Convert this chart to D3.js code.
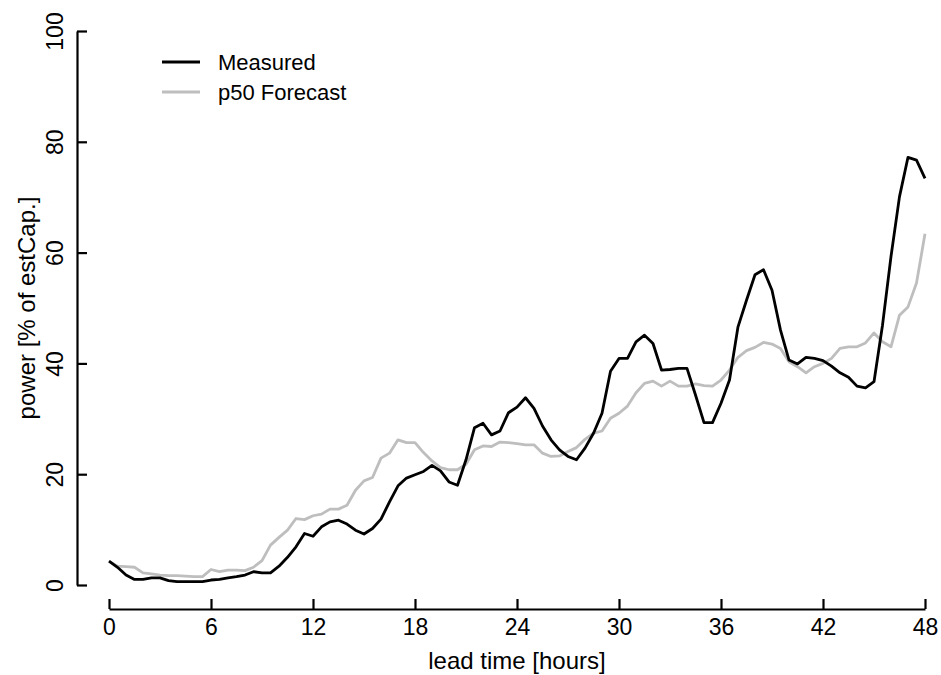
<!DOCTYPE html>
<html>
<head>
<meta charset="utf-8">
<script src="https://cdn.jsdelivr.net/npm/d3@7/dist/d3.min.js"></script>
<style>
  html, body { margin: 0; padding: 0; background: #fff; }
  svg { display: block; }
  text { font-family: "Liberation Sans", Arial, Helvetica, sans-serif; fill: #000; }
</style>
</head>
<body>
<svg id="chart" width="941" height="675"></svg>
<script>
// Lead time in hours, half-hour resolution (0 .. 48)
const leadTime = d3.range(0, 48.001, 0.5);

// Measured power [% of estimated capacity]
const measured = [
  4.3, 3.2, 1.8, 1.0, 1.0, 1.3, 1.3, 0.8, 0.6, 0.6,
  0.6, 0.6, 0.9, 1.0, 1.3, 1.5, 1.8, 2.4, 2.2, 2.2,
  3.4, 5.0, 6.9, 9.3, 8.8, 10.5, 11.4, 11.7, 11.0, 9.9,
  9.2, 10.2, 11.9, 15.0, 17.9, 19.3, 19.9, 20.5, 21.6, 20.6,
  18.6, 18.0, 22.6, 28.4, 29.2, 27.1, 27.8, 31.1, 32.1, 33.8,
  31.9, 28.7, 26.2, 24.4, 23.2, 22.6, 24.7, 27.4, 31.0, 38.6,
  40.9, 40.9, 43.9, 45.1, 43.6, 38.8, 38.9, 39.1, 39.1, 34.3,
  29.3, 29.3, 32.8, 37.0, 46.6, 51.4, 56.0, 56.9, 53.2, 46.0,
  40.6, 39.9, 41.1, 40.9, 40.5, 39.5, 38.3, 37.5, 35.9, 35.6,
  36.7, 46.9, 59.3, 70.1, 77.2, 76.7, 73.4
];

// Median (p50) forecast power [% of estimated capacity]
const forecastP50 = [
  4.3, 3.4, 3.3, 3.2, 2.2, 2.0, 1.8, 1.7, 1.7, 1.6,
  1.5, 1.5, 2.8, 2.4, 2.7, 2.7, 2.6, 3.2, 4.4, 7.2,
  8.6, 9.9, 12.0, 11.8, 12.5, 12.8, 13.7, 13.7, 14.4, 17.1,
  18.8, 19.4, 22.9, 23.8, 26.2, 25.7, 25.7, 23.9, 22.4, 21.2,
  20.8, 20.8, 21.8, 24.4, 25.1, 25.0, 25.8, 25.7, 25.5, 25.3,
  25.3, 23.8, 23.2, 23.3, 24.1, 24.8, 26.3, 27.4, 27.8, 30.1,
  31.0, 32.3, 34.7, 36.4, 36.8, 35.9, 36.8, 35.9, 35.9, 36.3,
  36.0, 35.9, 37.0, 38.8, 41.1, 42.3, 42.9, 43.8, 43.5, 42.7,
  40.3, 39.4, 38.3, 39.4, 40.0, 40.9, 42.7, 43.0, 43.0, 43.7,
  45.5, 43.9, 43.0, 48.7, 50.2, 54.5, 63.4
];

const xTicks = [0, 6, 12, 18, 24, 30, 36, 42, 48];
const yTicks = [0, 20, 40, 60, 80, 100];

const seriesNames = ["Measured", "p50 Forecast"];
const seriesColors = ["#000000", "#bebebe"];

const svg = d3.select("#chart");

const x = d3.scaleLinear().domain([0, 48]).range([109, 925]);
const y = d3.scaleLinear().domain([0, 100]).range([585, 31]);

// x axis: detached below the plot, ticks pointing up
const xAxisG = svg.append("g")
  .attr("transform", "translate(0,609)")
  .call(d3.axisTop(x).tickValues(xTicks).tickSize(10).tickSizeOuter(0).tickFormat(d3.format("d")));
xAxisG.select(".domain").attr("stroke", "#000").attr("stroke-width", 2.2);
xAxisG.selectAll(".tick line").attr("stroke", "#000").attr("stroke-width", 2.2);
xAxisG.selectAll(".tick text")
  .attr("y", 10).attr("dy", "0.71em")
  .style("font-size", "23px");

// y axis: detached left of the plot, ticks pointing right, rotated labels
const yAxisG = svg.append("g")
  .attr("transform", "translate(77,0)")
  .call(d3.axisRight(y).tickValues(yTicks).tickSize(10).tickSizeOuter(0).tickFormat(d3.format("d")));
yAxisG.select(".domain").attr("stroke", "#000").attr("stroke-width", 2.2);
yAxisG.selectAll(".tick line").attr("stroke", "#000").attr("stroke-width", 2.2);
yAxisG.selectAll(".tick text")
  .attr("x", null).attr("dy", null)
  .attr("text-anchor", "middle")
  .attr("transform", "translate(-14,0) rotate(-90)")
  .style("font-size", "23px");

// axis titles
svg.append("text")
  .attr("x", (x(0) + x(48)) / 2)
  .attr("y", 669)
  .attr("text-anchor", "middle")
  .style("font-size", "24px")
  .text("lead time [hours]");

svg.append("text")
  .attr("transform", `translate(35,${(y(0) + y(100)) / 2}) rotate(-90)`)
  .attr("text-anchor", "middle")
  .style("font-size", "24px")
  .text("power [% of estCap.]");

// series lines
const line = d3.line()
  .x((d, i) => x(leadTime[i]))
  .y(d => y(d));

[forecastP50, measured].forEach((vals, k) => {
  const idx = k === 0 ? 1 : 0;
  svg.append("path")
    .datum(vals)
    .attr("fill", "none")
    .attr("stroke", seriesColors[idx])
    .attr("stroke-width", 2.8)
    .attr("stroke-linejoin", "round")
    .attr("d", line);
});

// legend
const legend = svg.append("g").attr("transform", "translate(162,62)");
seriesNames.forEach((name, i) => {
  const g = legend.append("g").attr("transform", `translate(0,${i * 30})`);
  g.append("line")
    .attr("x1", 0).attr("x2", 38)
    .attr("y1", 0).attr("y2", 0)
    .attr("stroke", seriesColors[i])
    .attr("stroke-width", 2.8);
  g.append("text")
    .attr("x", 56).attr("y", 0).attr("dy", "0.35em")
    .style("font-size", "22px")
    .text(name);
});
</script>
</body>
</html>
